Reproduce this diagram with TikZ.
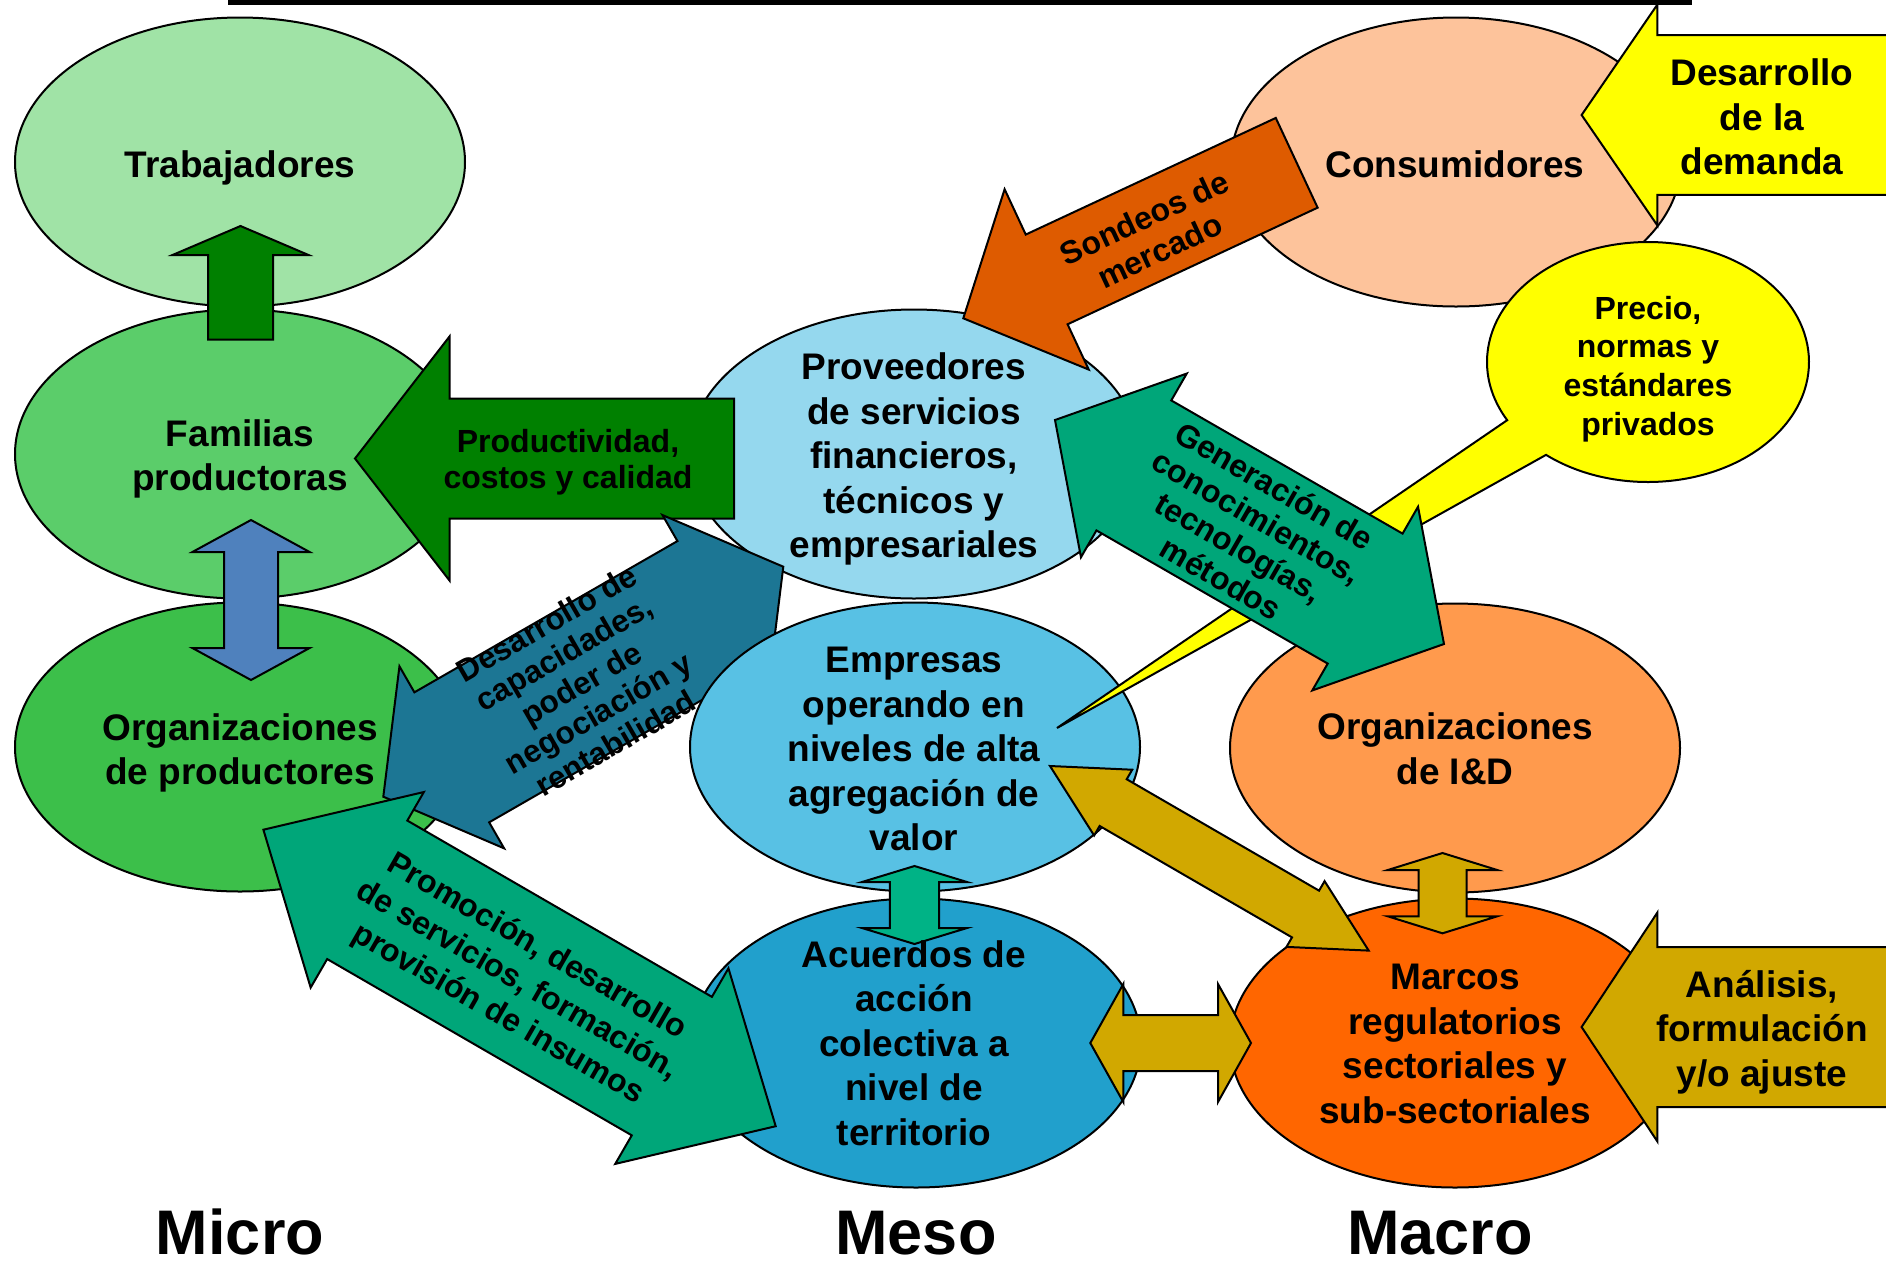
\documentclass[tikz,border=0pt]{standalone}
\usepackage{fontspec}
\setmainfont{Liberation Sans}
\usetikzlibrary{calc,shapes.geometric}

\definecolor{cTrab}{HTML}{A0E3A6}
\definecolor{cFam}{HTML}{5BCD6A}
\definecolor{cOrgP}{HTML}{3CBF4A}
\definecolor{cProv}{HTML}{95D8EE}
\definecolor{cEmp}{HTML}{58C1E4}
\definecolor{cAcu}{HTML}{21A0CC}
\definecolor{cCons}{HTML}{FDC39B}
\definecolor{cID}{HTML}{FF9A4D}
\definecolor{cMar}{HTML}{FF6600}
\definecolor{cYel}{HTML}{FFFF00}
\definecolor{cSond}{HTML}{DE5B00}
\definecolor{cDkGreen}{HTML}{008000}
\definecolor{cBlue}{HTML}{4F81BD}
\definecolor{cTeal}{HTML}{1C7694}
\definecolor{cGreen}{HTML}{00A679}
\definecolor{cGreenL}{HTML}{00B386}
\definecolor{cGold}{HTML}{D1A800}

% double block arrow: style, tip A, tip B, head length, head half-width, shaft half-width
\newcommand\myDblArrow[6]{%
  \draw[#1] (#2)
    -- ($(#2)!#4!(#3)!#5!90:(#3)$) -- ($(#2)!#4!(#3)!#6!90:(#3)$)
    -- ($(#3)!#4!(#2)!#6!-90:(#2)$) -- ($(#3)!#4!(#2)!#5!-90:(#2)$)
    -- (#3)
    -- ($(#3)!#4!(#2)!#5!90:(#2)$) -- ($(#3)!#4!(#2)!#6!90:(#2)$)
    -- ($(#2)!#4!(#3)!#6!-90:(#3)$) -- ($(#2)!#4!(#3)!#5!-90:(#3)$)
    -- cycle;}
% single block arrow: style, tail middle, tip, head length, head half-width, shaft half-width
\newcommand\mySglArrow[6]{%
  \draw[#1] ($(#2)!#6!90:(#3)$)
    -- ($(#3)!#4!(#2)!#6!-90:(#2)$) -- ($(#3)!#4!(#2)!#5!-90:(#2)$)
    -- (#3)
    -- ($(#3)!#4!(#2)!#5!90:(#2)$) -- ($(#3)!#4!(#2)!#6!90:(#2)$)
    -- ($(#2)!#6!-90:(#3)$) -- cycle;}

\begin{document}
\begin{tikzpicture}[x=0.5pt,y=-0.5pt,
  bubble/.style={ellipse, draw=black, line width=1pt, minimum width=225pt, minimum height=144.5pt, inner sep=0pt},
  blockarrow/.style={draw=black, line width=1pt, line join=miter},
  lbl/.style={font=\bfseries\fontsize{18.5pt}{22.25pt}\selectfont, align=center, inner sep=0pt},
  albl/.style={align=center, inner sep=0pt},
  levellbl/.style={font=\bfseries\fontsize{31.5pt}{36pt}\selectfont, inner sep=0pt, anchor=base}]

\useasboundingbox (0,0) rectangle (1886,1260);
\clip (0,0) rectangle (1886,1260);
\fill[white] (0,0) rectangle (1886,1260);
\fill[black] (228,0) rectangle (1692,4.5);

% ellipses (lower layer)
\node[bubble, fill=cTrab] (trab) at (240,162) {};
\node[bubble, fill=cFam] (fam) at (240,454) {};
\node[bubble, fill=cOrgP] (orgp) at (240,747) {};
\node[bubble, fill=cCons] (cons) at (1456,162) {};
\node[bubble, fill=cID] (id) at (1455,748) {};
\node[bubble, fill=cMar] (marc) at (1455,1043) {};
\node[bubble, fill=cProv] (prov) at (914,454) {};

% arrow end points
\coordinate (trabT) at (240.5,339.5);   \coordinate (trabP) at (240.5,226);
\coordinate (prodT) at (734,458.5);     \coordinate (prodP) at (355,458.5);
\coordinate (sondT) at (1296.7,162.8);  \coordinate (sondP) at (963.3,318.3);
\coordinate (blueA) at (251,520);       \coordinate (blueB) at (251,680);
\coordinate (tealA) at (383.3,796.7);   \coordinate (tealB) at (783.3,566.7);
\coordinate (precC) at (1648,362);      \coordinate (precP) at (1057,728);
\coordinate (genA) at (1055,420);       \coordinate (genB) at (1444,644);
\coordinate (promA) at (263.4,829.7);   \coordinate (promB) at (775.7,1126.2);
\coordinate (emA) at (1050,766);        \coordinate (emB) at (1368.7,950.6);
\coordinate (amA) at (1090.3,1043);     \coordinate (amB) at (1251,1043);
\coordinate (eaA) at (914.5,866);       \coordinate (eaB) at (914.5,944);
\coordinate (imA) at (1442.5,853);      \coordinate (imB) at (1442.5,933.3);
\coordinate (demT) at (1920,115);       \coordinate (demP) at (1581.6,115);
\coordinate (anaT) at (1920,1027);      \coordinate (anaP) at (1581.6,1027);

\mySglArrow{blockarrow, fill=cDkGreen}{trabT}{trabP}{14.5pt}{34pt}{16.25pt}
\mySglArrow{blockarrow, fill=cDkGreen}{prodT}{prodP}{47.25pt}{61pt}{30pt}
\mySglArrow{blockarrow, fill=cSond}{sondT}{sondP}{46pt}{49.75pt}{24.75pt}
\myDblArrow{blockarrow, fill=cBlue}{blueA}{blueB}{16pt}{29.3pt}{13.5pt}
\myDblArrow{blockarrow, fill=cTeal}{tealA}{tealB}{39.5pt}{52.5pt}{37.5pt}

\node[bubble, fill=cEmp] (emp) at (915,747) {};
\node[bubble, fill=cAcu] (acu) at (916,1043) {};

% callout
\draw[blockarrow, fill=cYel] ($(precC)+(230.7:80.5pt and 60pt)$)
  arc[start angle=230.7, end angle=569, x radius=80.5pt, y radius=60pt] -- (precP) -- cycle;

\myDblArrow{blockarrow, fill=cGreen}{genA}{genB}{45.5pt}{53pt}{37.5pt}
\myDblArrow{blockarrow, fill=cGreen}{promA}{promB}{60pt}{56.5pt}{40pt}
\myDblArrow{blockarrow, fill=cGold}{emA}{emB}{36.5pt}{19pt}{13.5pt}
\myDblArrow{blockarrow, fill=cGold}{amA}{amB}{16.5pt}{29.5pt}{14pt}
\myDblArrow{blockarrow, fill=cGreenL}{eaA}{eaB}{8pt}{26.25pt}{12.35pt}
\myDblArrow{blockarrow, fill=cGold}{imA}{imB}{8.5pt}{27.35pt}{12pt}
\mySglArrow{blockarrow, fill=cYel}{demT}{demP}{37.9pt}{55.25pt}{39.9pt}
\mySglArrow{blockarrow, fill=cGold}{anaT}{anaP}{37.9pt}{57.25pt}{40pt}

% texts
\node[lbl] (trabL) at (240,168) {Trabajadores};
\node[lbl] (famL) at (240,459) {Familias\\productoras};
\node[lbl] (orgpL) at (240,753) {Organizaciones\\de productores};
\node[lbl] (provL) at (914,459) {Proveedores\\de servicios\\financieros,\\técnicos y\\empresariales};
\node[lbl] (empL) at (914,749) {Empresas\\operando en\\niveles de alta\\agregación de\\valor};
\node[lbl] (acuL) at (914,1043) {Acuerdos de\\acción\\colectiva a\\nivel de\\territorio};
\node[lbl] (consL) at (1455,164) {Consumidores};
\node[lbl] (idL) at (1455,749) {Organizaciones\\de I\&D};
\node[lbl] (marcL) at (1455,1044) {Marcos\\regulatorios\\sectoriales y\\sub-sectoriales};
\node[lbl] (demL) at (1762,117) {Desarrollo\\de la\\demanda};
\node[lbl] (anaL) at (1762,1032) {Análisis,\\formulación\\y/o ajuste};
\node[albl, font=\bfseries\fontsize{16pt}{19.4pt}\selectfont] (precL) at (1648,369) {Precio,\\normas y\\estándares\\privados};
\node[albl, font=\bfseries\fontsize{16pt}{17.8pt}\selectfont] (prodL) at (568,462) {Productividad,\\costos y calidad};
\node[albl, font=\bfseries\fontsize{16pt}{18.2pt}\selectfont, rotate=25] (sondL) at (1152,234) {Sondeos de\\mercado};
\node[albl, font=\bfseries\fontsize{16pt}{17.75pt}\selectfont, rotate=-30] (genL) at (1248,532) {Generación de\\conocimientos,\\tecnologías,\\métodos};
\node[albl, font=\bfseries\fontsize{15.75pt}{17.3pt}\selectfont, rotate=30] (tealL) at (581,683) {Desarrollo de\\capacidades,\\poder de\\negociación y\\rentabilidad};
\node[albl, font=\bfseries\fontsize{16pt}{19.4pt}\selectfont, rotate=-30] (promL) at (517,981) {Promoción, desarrollo\\de servicios, formación,\\provisión de insumos};

\node[levellbl] (micro) at (240,1254) {Micro};
\node[levellbl] (meso) at (916,1254) {Meso};
\node[levellbl] (macro) at (1440,1254) {Macro};
\end{tikzpicture}
\end{document}
